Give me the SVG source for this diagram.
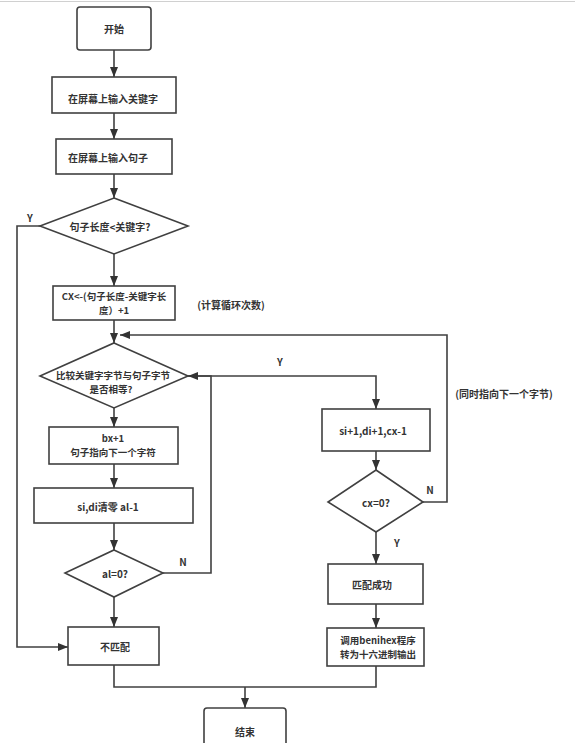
<svg xmlns="http://www.w3.org/2000/svg" width="575" height="743" viewBox="0 0 575 743">
<defs>
<marker id="arr" viewBox="0 0 10 8" markerWidth="10" markerHeight="8" refX="10" refY="4" orient="auto" markerUnits="userSpaceOnUse">
<path d="M0,0 L10,4 L0,8 z" fill="#333"/>
</marker>
<style>
.n{fill:#fff;stroke:#404040;stroke-width:1.6}
.c{fill:none;stroke:#404040;stroke-width:1.6}
.a{marker-end:url(#arr)}
text{font-family:"Noto Sans CJK SC","Noto Sans",sans-serif;font-size:10px;font-weight:bold;fill:#333;text-anchor:middle;dominant-baseline:central}
text.t2{font-size:9.5px}
</style>
</defs>
<rect width="575" height="743" fill="#fff"/>
<line x1="0" y1="1.5" x2="575" y2="1.5" stroke="#d0d0d0" stroke-width="1"/>
<g id="connectors">
<line class="c a" x1="114" y1="50" x2="114" y2="77"/>
<line class="c a" x1="114" y1="113" x2="114" y2="139"/>
<line class="c a" x1="114" y1="174" x2="114" y2="198"/>
<line class="c a" x1="114" y1="254" x2="114" y2="286"/>
<polyline class="c a" points="40,226 17,226 17,647 68,647"/>
<line class="c a" x1="114" y1="320" x2="114" y2="343"/>
<polyline class="c a" points="423,502 447,502 447,335 120,335"/>
<line class="c a" x1="114" y1="408" x2="114" y2="427"/>
<polyline class="c a" points="188,376 376,376 376,409"/>
<line class="c a" x1="114" y1="464" x2="114" y2="488"/>
<line class="c a" x1="114" y1="523" x2="114" y2="550"/>
<polyline class="c a" points="163,573 211,573 211,376 188,376"/>
<line class="c a" x1="114" y1="597" x2="114" y2="627"/>
<line class="c a" x1="376" y1="451" x2="376" y2="470"/>
<line class="c a" x1="376" y1="532" x2="376" y2="564"/>
<line class="c a" x1="376" y1="604" x2="376" y2="628"/>
<polyline class="c" points="114,665 114,687 376,687 376,666"/>
<line class="c a" x1="245" y1="687" x2="245" y2="708"/>
</g>
<g id="start"><rect class="n" x="77" y="7" width="74" height="43" rx="3"/><text x="114" y="28">开始</text></g>
<g id="inputKey"><rect class="n" x="52" y="77" width="124" height="36"/><text x="113" y="98">在屏幕上输入关键字</text></g>
<g id="inputSentence"><rect class="n" x="56" y="139" width="116" height="35"/><text x="108" y="157">在屏幕上输入句子</text></g>
<g id="cmpLen"><polygon class="n" points="114,198 188,226 114,254 40,226"/><text x="110" y="226">句子长度&lt;关键字?</text></g>
<g id="calcCX"><rect class="n" x="53" y="286" width="122" height="34"/><text class="t2" x="114" y="296">CX&lt;-(句子长度-关键字长</text><text class="t2" x="114" y="310">度）+1</text></g>
<g id="cmpByte"><polygon class="n" points="114,343 188,376 114,408 40,376"/><text class="t2" x="113" y="375">比较关键字字节与句子字节</text><text class="t2" x="111" y="389">是否相等?</text></g>
<g id="bxInc"><rect class="n" x="49" y="427" width="129" height="37"/><text class="t2" x="113" y="438">bx+1</text><text class="t2" x="113" y="452">句子指向下一个字符</text></g>
<g id="clear"><rect class="n" x="34" y="488" width="159" height="35"/><text x="108" y="506">si,di清零 al-1</text></g>
<g id="alZero"><polygon class="n" points="114,550 163,573 114,597 65,573"/><text x="115" y="573">al=0?</text></g>
<g id="noMatch"><rect class="n" x="68" y="627" width="91" height="38"/><text x="115" y="646">不匹配</text></g>
<g id="siInc"><rect class="n" x="322" y="409" width="108" height="42"/><text x="373" y="430">si+1,di+1,cx-1</text></g>
<g id="cxZero"><polygon class="n" points="376,470 423,502 376,532 328,502"/><text x="376" y="502">cx=0?</text></g>
<g id="match"><rect class="n" x="328" y="564" width="95" height="40"/><text x="372" y="584">匹配成功</text></g>
<g id="callHex"><rect class="n" x="327" y="628" width="97" height="38"/><text class="t2" x="378" y="640">调用benihex程序</text><text class="t2" x="378" y="654">转为十六进制输出</text></g>
<g id="end"><rect class="n" x="204" y="708" width="82" height="45" rx="3"/><text x="245" y="731">结束</text></g>
<g id="labels">
<text x="30" y="217">Y</text>
<text x="231" y="304">(计算循环次数)</text>
<text x="280" y="361">Y</text>
<text x="183" y="561">N</text>
<text x="430" y="489">N</text>
<text x="397" y="542">Y</text>
<text x="504" y="393">(同时指向下一个字节)</text>
</g>
</svg>
